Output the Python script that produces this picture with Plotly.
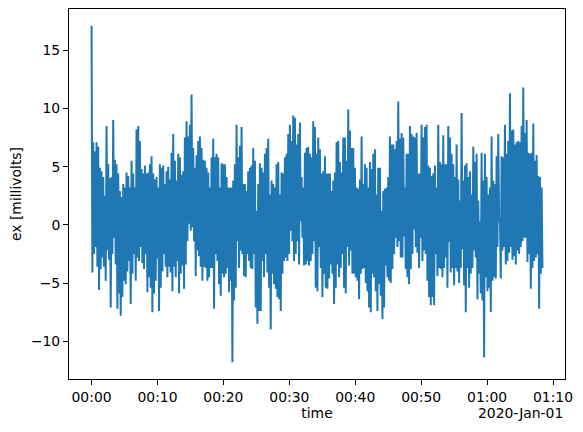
import numpy as np
import pandas as pd
import plotly.graph_objects as go

# local maxima / minima of the ex channel in order (millivolts)
peaks_q1 = [17.1, 7.1, 6.3, 7.1, 6.7, 4.9, 4.6, 4.1, 2.5, 8.5, 5.2, 4.0, 4.1, 9.0, 5.6, 5.2,
            4.4, 2.9, 2.4, 3.5, 3.2, 4.5, 4.2, 3.2, 5.5, 4.4, 3.2, 8.2, 8.5, 7.2, 4.8, 4.4,
            5.1, 4.4, 4.5, 5.2, 5.9, 4.4, 3.9, 4.1, 3.2, 5.2, 4.9, 5.1, 3.5, 4.6, 5.0, 3.9,
            6.2, 7.8, 5.5, 3.8, 6.1, 5.8, 4.3, 4.6, 7.5, 8.9, 7.6, 8.6, 11.2, 6.6, 4.9, 6.0,
            7.2, 7.6, 6.6, 5.6]
troughs_q1 = [-4.1, -2.5, -1.9, -3.6, -5.6, -3.8, -2.8, -3.6, -4.8, -2.2, -3.0, -7.1, -2.5,
              -1.1, -3.4, -7.2, -5.9, -7.8, -6.2, -4.8, -5.1, -4.0, -3.1, -6.8, -4.2, -2.5,
              -4.8, -2.8, -3.1, -1.9, -3.3, -3.8, -2.5, -5.8, -4.5, -5.4, -7.5, -5.9, -4.8,
              -2.9, -7.4, -5.4, -4.0, -2.5, -3.6, -4.5, -3.6, -4.1, -5.7, -3.6, -4.5, -3.1,
              -5.9, -4.2, -3.5, -5.5, -3.4, -1.4, 0.1, -0.5, -0.2, -1.4, -4.4, -2.2, -2.7,
              -3.6, -4.8, -3.6]

peaks_q2 = [5.5, 4.9, 4.5, 3.2, 5.8, 7.4, 5.8, 6.1, 5.8, 3.2, 5.3, 5.2, 5.2, 4.1, 3.2, 3.2,
            3.2, 3.8, 5.2, 8.6, 5.8, 6.8, 8.4, 3.5, 3.5, 2.9, 4.6, 4.9, 5.1, 6.6, 5.5, 1.2,
            3.5, 5.3, 4.9, 4.5, 6.1, 6.6, 7.4, 2.6, 3.8, 3.5, 3.2, 5.2, 5.4, 2.6, 4.5, 4.4,
            5.8, 6.1, 7.8, 8.6, 7.2, 9.4, 9.2, 6.9, 7.8, 8.8, 4.1, 3.2, 6.2, 6.6, 6.7, 6.1,
            5.8, 8.9, 8.4, 6.1]
troughs_q2 = [-3.7, -4.8, -4.5, -3.7, -3.7, -7.2, -2.5, -3.1, -5.1, -6.1, -4.2, -4.5, -4.2,
              -3.7, -5.8, -4.8, -11.8, -6.5, -5.4, -1.4, -3.7, -2.2, -2.5, -4.4, -4.5, -2.5,
              -3.1, -3.7, -3.8, -2.5, -7.1, -8.5, -7.4, -7.4, -3.1, -4.5, -2.5, -4.1, -5.4,
              -9.0, -4.2, -5.1, -5.5, -6.2, -6.4, -7.4, -4.2, -3.1, -2.8, -3.1, -2.5, -0.5,
              -1.4, -3.1, -2.5, -1.4, -3.4, 0.3, -1.1, -3.5, -3.4, -3.1, -3.5, -3.1, -2.5,
              -1.4, -5.4, -5.7]

peaks_q3 = [7.5, 6.5, 4.4, 4.6, 5.9, 4.4, 4.4, 4.4, 2.9, 3.8, 4.5, 7.1, 7.2, 5.4, 4.5, 7.5,
            7.5, 5.5, 9.9, 8.1, 6.6, 6.6, 4.9, 3.2, 3.1, 3.9, 7.6, 3.5, 5.2, 4.9, 3.2, 5.4,
            4.8, 6.1, 6.5, 2.6, 4.9, 4.9, 1.2, 2.9, 3.1, 3.2, 4.1, 7.6, 6.9, 6.9, 6.5, 7.2,
            10.6, 7.4, 7.9, 7.5, 3.2, 6.1, 6.1, 8.5, 7.8, 7.6, 7.5, 7.9, 4.4, 4.4, 8.6, 7.5,
            8.4, 8.6, 5.1, 4.9]
troughs_q3 = [-1.9, -3.7, -6.2, -4.2, -5.4, -5.5, -4.6, -3.4, -4.2, -6.8, -5.4, -3.4, -4.5,
              -3.7, -2.5, -5.4, -5.9, -1.9, -3.5, -2.2, -4.2, -4.2, -4.5, -4.8, -6.4, -4.2,
              -3.8, -3.7, -5.0, -5.7, -7.1, -7.5, -4.2, -4.5, -5.7, -7.4, -5.1, -6.1, -8.1,
              -7.1, -3.5, -4.5, -4.8, -5.0, -3.8, -2.5, -1.1, -1.9, -1.4, -2.8, -2.8, -1.0,
              -3.8, -4.5, -5.1, -3.8, -2.5, -0.4, -1.9, -2.4, -3.7, -1.1, -3.1, -2.2, -2.5,
              -4.8, -6.2, -6.9]

peaks_q4 = [4.2, 4.4, 5.1, 3.2, 8.6, 5.4, 5.2, 7.7, 5.2, 5.2, 8.5, 7.5, 6.1, 5.2, 4.1, 6.9,
            3.9, 2.1, 9.6, 3.8, 5.1, 5.3, 4.1, 4.6, 2.6, 6.7, 5.4, 6.1, 2.1, 0.3, 6.2, 3.8,
            6.1, 4.1, 2.6, 3.2, 7.6, 3.8, 3.5, 5.9, 7.8, 0.6, 5.9, 5.8, 8.6, 6.1, 7.2, 11.3,
            8.1, 8.2, 6.9, 7.1, 7.2, 7.1, 8.5, 11.8, 7.9, 9.0, 6.2, 6.1, 6.2, 8.7, 5.5, 6.0,
            4.2, 4.1, 3.2]
troughs_q4 = [-6.2, -6.9, -2.5, -4.4, -3.7, -3.8, -4.5, -3.7, -2.8, -5.4, -1.5, -4.1, -3.7,
              -5.2, -3.7, -4.0, -5.0, -3.7, -2.1, -5.2, -7.5, -3.7, -5.4, -4.2, -3.7, -2.2,
              -2.8, -6.4, -4.2, -5.9, -6.5, -11.4, -4.5, -5.7, -5.4, -7.5, -4.8, -4.5, -4.6,
              -1.9, 0.3, -4.6, -2.2, -1.9, -3.4, -3.1, -2.4, -1.9, -3.0, -2.7, -3.4, -2.2,
              -2.5, -1.9, -1.4, -1.1, -1.1, -3.2, -2.5, -5.5, -3.7, -3.1, -2.8, -2.5, -7.2,
              -4.2, -3.7]

start_time = "2020-01-01 00:00:00"
end_time = "2020-01-01 01:08:24"

peaks = np.array(peaks_q1 + peaks_q2 + peaks_q3 + peaks_q4)
troughs = np.array(troughs_q1 + troughs_q2 + troughs_q3 + troughs_q4)
ex = np.column_stack([peaks, troughs]).ravel()
time = pd.date_range(start_time, end_time, periods=len(ex))

# matplotlib-like 5% margins around the data
t0, t1 = time[0], time[-1]
pad_t = (t1 - t0) * 0.05
y_lo, y_hi = ex.min(), ex.max()
pad_y = (y_hi - y_lo) * 0.05

font = dict(family="DejaVu Sans", size=13.9, color="black")

fig = go.Figure()
fig.add_trace(go.Scatter(
    x=time,
    y=ex,
    mode="lines",
    line=dict(color="#1f77b4", width=2),
    hovertemplate="%{x}<br>%{y:.2f} mV<extra></extra>",
))

# page body keeps its default 8px margin, so the figure is sized to fit inside it
fig.update_layout(
    width=575,
    height=424,
    margin=dict(l=61, r=18, t=1, b=53),
    plot_bgcolor="white",
    paper_bgcolor="white",
    font=font,
    showlegend=False,
    xaxis=dict(
        range=[t0 - pad_t, t1 + pad_t],
        tickformat="%H:%M",
        dtick=10 * 60 * 1000,
        tick0="2020-01-01 00:00:00",
        automargin=False,
        showgrid=False,
        zeroline=False,
        showline=True,
        mirror=True,
        linecolor="black",
        linewidth=1,
        ticks="outside",
        ticklen=5,
        tickcolor="black",
        tickfont=font,
        title=dict(text="time", standoff=3, font=font),
    ),
    yaxis=dict(
        range=[y_lo - pad_y, y_hi + pad_y],
        tickvals=[-10, -5, 0, 5, 10, 15],
        automargin=False,
        showgrid=False,
        zeroline=False,
        showline=True,
        mirror=True,
        linecolor="black",
        linewidth=1,
        ticks="outside",
        ticklen=5,
        tickcolor="black",
        tickfont=font,
        title=dict(text="ex [millivolts]", standoff=6, font=font),
    ),
    annotations=[dict(
        text="2020-Jan-01",
        xref="paper", yref="paper",
        x=1, y=0,
        xanchor="right", yanchor="top",
        yshift=-24,
        showarrow=False,
        font=font,
    )],
)

fig.write_html("out.html")
